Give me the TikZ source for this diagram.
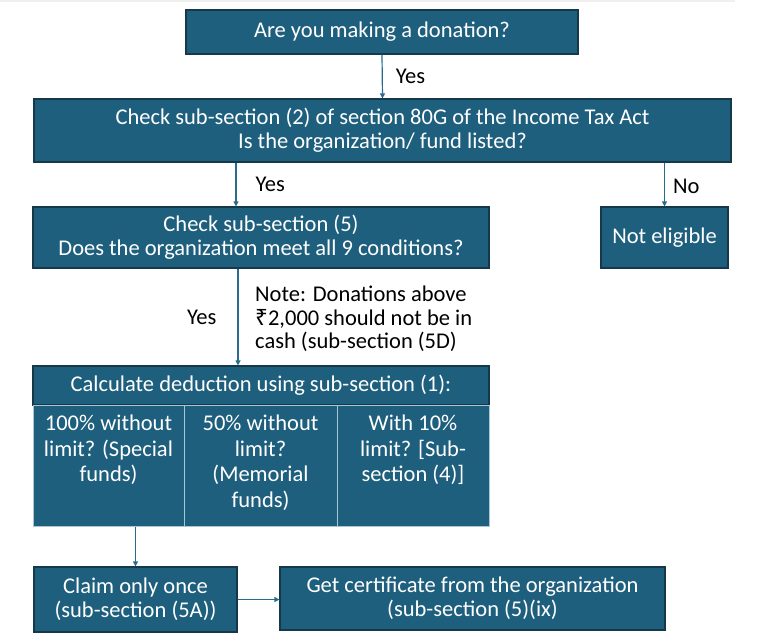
\documentclass[tikz,border=0pt]{standalone}
\usepackage{fontspec}
\setmainfont{Carlito}
\newfontfamily\rupeefont{Noto Sans}
\usetikzlibrary{arrows.meta}
\definecolor{boxfill}{HTML}{1E5F7D}
\definecolor{boxline}{HTML}{15384A}
\definecolor{arrowc}{HTML}{2B6B8A}
\definecolor{sepline}{HTML}{A9C6D6}
\tikzset{
  fbox/.style={draw=boxline, line width=1.2pt, fill=boxfill, text=white, align=center,
    inner sep=0pt, font=\fontsize{22.5}{24}\selectfont},
  colbox/.style={draw=sepline, line width=0.8pt, fill=boxfill, inner sep=0pt},
  coltext/.style={text=white, align=center, inner sep=0pt, font=\fontsize{22.5}{25.5}\selectfont},
  lbl/.style={inner sep=0pt, font=\fontsize{22.5}{23.5}\selectfont, text=black},
  arr/.style={draw=arrowc, line width=1.2pt, -{Triangle[length=5pt,width=5pt]}}
}
\begin{document}
\begin{tikzpicture}[x=1pt,y=-1pt]
\useasboundingbox (0,0) rectangle (784,640);
\fill[white] (0,0) rectangle (784,640);
\fill[black!6] (0,0) rectangle (735,2);
% boxes
\node[fbox, minimum width=392pt, minimum height=44pt] (q1) at (382,32) {Are you making a donation?};
\node[fbox, minimum width=697pt, minimum height=63pt] (q2) at (382.5,130.5)
  {Check sub-section (2) of section 80G of the Income Tax Act\\Is the organization/ fund listed?};
\node[fbox, minimum width=456pt, minimum height=61pt] (q3) at (261,237.5)
  {Check sub-section (5)\\Does the organization meet all 9 conditions?};
\node[fbox, minimum width=127pt, minimum height=61pt] (ne) at (664.5,237.5) {Not eligible};
\node[fbox, minimum width=456pt, minimum height=39pt] (calc) at (261,385.5)
  {Calculate deduction using sub-section (1):};
\node[colbox, minimum width=151pt, minimum height=121pt] (c1) at (108.5,466) {};
\node[colbox, minimum width=153pt, minimum height=121pt] (c2) at (260.5,466) {};
\node[colbox, minimum width=152pt, minimum height=121pt] (c3) at (413,466) {};
\node[coltext, anchor=north] (t1) at ([yshift=-10pt]c1.north) {100\% without\\limit? (Special\\funds)};
\node[coltext, anchor=north] (t2) at ([yshift=-10pt]c2.north) {50\% without\\limit?\\(Memorial\\funds)};
\node[coltext, anchor=north] (t3) at ([yshift=-10pt]c3.north) {With 10\%\\limit? [Sub-\\section (4)]};
\node[fbox, minimum width=203pt, minimum height=65pt] (claim) at (135.5,599.5)
  {Claim only once\\(sub-section (5A))};
\node[fbox, minimum width=385pt, minimum height=63pt] (cert) at (472.5,598.5)
  {Get certificate from the organization\\(sub-section (5)(ix)};
% connectors
\coordinate (xa) at (236,0);
\coordinate (xb) at (238,0);
\draw[arr] (q1.south) -- node[lbl, right=13pt] (y1) {Yes} (q2.north);
\draw[arr] (q2.south -| xa) -- node[lbl, right=19pt] (y2) {Yes} (q3.north -| xa);
\draw[arr] (q2.south -| ne.north) -- node[lbl, right=8pt, yshift=-2pt] (n1) {No} (ne.north);
\draw[arr] (q3.south -| xb) -- node[lbl, left=21pt] (y3) {Yes} (calc.north -| xb);
\node[lbl, anchor=west, align=left] (note) at (255,319)
  {Note: Donations above\\{\rupeefont ₹}2,000 should not be in\\cash (sub-section (5D)};
\draw[arr] (c1.south -| claim.north) -- (claim.north);
\draw[arr] (claim.east) -- (claim.east -| cert.west);
\end{tikzpicture}
\end{document}
